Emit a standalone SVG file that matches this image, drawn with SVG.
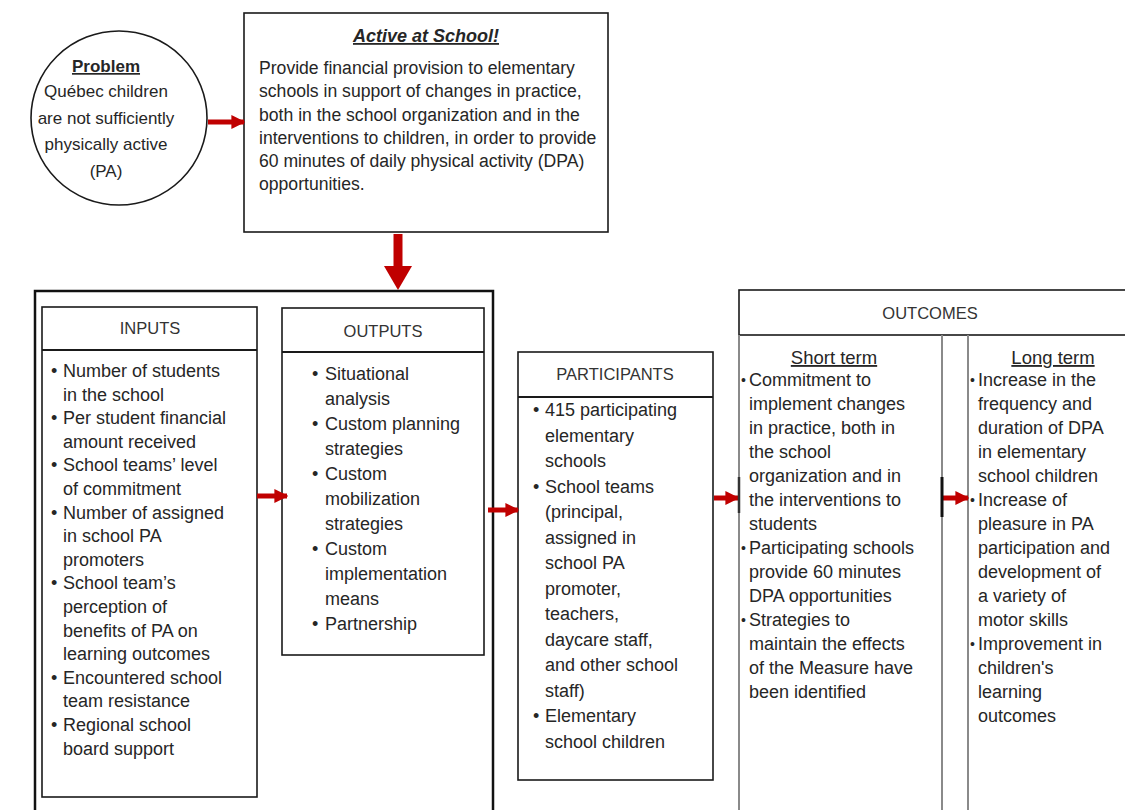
<svg xmlns="http://www.w3.org/2000/svg" width="1125" height="810" viewBox="0 0 1125 810">
<defs>
<style>
text{font-family:"Liberation Sans",Arial,sans-serif;fill:#262626;}
.b{font-size:18px;}
.a{font-size:17.6px;}
.c{font-size:17px;text-anchor:middle;}
.h{font-size:16.5px;text-anchor:middle;fill:#333;}
.t{font-size:18.5px;text-anchor:middle;text-decoration:underline;}
.d{font-size:14px;}
.box{fill:#fff;stroke:#1a1a1a;stroke-width:1.6;}
.gray{fill:none;stroke:#8a8a8a;stroke-width:2;}
.dark{fill:none;stroke:#1a1a1a;stroke-width:2;}
.arr{stroke:#c00000;stroke-width:5;fill:none;}
</style>
<marker id="ah" viewBox="0 0 10 10" refX="9" refY="5" markerWidth="14" markerHeight="14" markerUnits="userSpaceOnUse" orient="auto">
<path d="M0,0 L10,5 L0,10 Z" fill="#c00000"/>
</marker>
</defs>
<rect width="1125" height="810" fill="#fff"/>

<g id="problem">
<ellipse cx="119" cy="118" rx="88" ry="87" class="box"/>
<text class="c" x="106" y="72" font-weight="bold" font-size="18" text-decoration="underline">Problem</text>
<text class="c" x="106" y="97">Québec children</text>
<text class="c" x="106" y="124">are not sufficiently</text>
<text class="c" x="106" y="150">physically active</text>
<text class="c" x="106" y="177">(PA)</text>
</g>

<g id="active">
<rect x="244" y="13" width="364" height="219" class="box"/>
<text x="426" y="42" font-size="18" font-weight="bold" font-style="italic" text-anchor="middle" text-decoration="underline">Active at School!</text>
<text class="a" x="259" y="74">Provide financial provision to elementary</text>
<text class="a" x="259" y="97">schools in support of changes in practice,</text>
<text class="a" x="259" y="121">both in the school organization and in the</text>
<text class="a" x="259" y="144">interventions to children, in order to provide</text>
<text class="a" x="259" y="167">60 minutes of daily physical activity (DPA)</text>
<text class="a" x="259" y="190">opportunities.</text>
</g>

<g id="outer">
<rect x="35" y="291" width="458" height="540" fill="none" stroke="#111" stroke-width="2.5"/>
</g>

<g id="inputs">
<rect x="42" y="307" width="215" height="490" class="box"/>
<line x1="42" y1="350" x2="257" y2="350" class="dark"/>
<text class="h" x="150" y="334">INPUTS</text>
<g class="b">
<text x="51" y="377">•</text><text x="63" y="377">Number of students</text>
<text x="63" y="400.6">in the school</text>
<text x="51" y="424.2">•</text><text x="63" y="424.2">Per student financial</text>
<text x="63" y="447.8">amount received</text>
<text x="51" y="471.4">•</text><text x="63" y="471.4">School teams’ level</text>
<text x="63" y="495">of commitment</text>
<text x="51" y="518.6">•</text><text x="63" y="518.6">Number of assigned</text>
<text x="63" y="542.2">in school PA</text>
<text x="63" y="565.8">promoters</text>
<text x="51" y="589.4">•</text><text x="63" y="589.4">School team’s</text>
<text x="63" y="613">perception of</text>
<text x="63" y="636.6">benefits of PA on</text>
<text x="63" y="660.2">learning outcomes</text>
<text x="51" y="683.8">•</text><text x="63" y="683.8">Encountered school</text>
<text x="63" y="707.4">team resistance</text>
<text x="51" y="731">•</text><text x="63" y="731">Regional school</text>
<text x="63" y="754.6">board support</text>
</g>
</g>

<g id="outputs">
<rect x="282" y="308" width="202" height="347" class="box"/>
<line x1="282" y1="352" x2="484" y2="352" class="dark"/>
<text class="h" x="383" y="337">OUTPUTS</text>
<g class="b">
<text x="312" y="380">•</text><text x="325" y="380">Situational</text>
<text x="325" y="405">analysis</text>
<text x="312" y="430">•</text><text x="325" y="430">Custom planning</text>
<text x="325" y="455">strategies</text>
<text x="312" y="480">•</text><text x="325" y="480">Custom</text>
<text x="325" y="505">mobilization</text>
<text x="325" y="530">strategies</text>
<text x="312" y="555">•</text><text x="325" y="555">Custom</text>
<text x="325" y="580">implementation</text>
<text x="325" y="605">means</text>
<text x="312" y="630">•</text><text x="325" y="630">Partnership</text>
</g>
</g>

<g id="participants">
<rect x="518" y="352" width="195" height="428" class="box"/>
<line x1="518" y1="397" x2="713" y2="397" class="dark"/>
<text class="h" x="615" y="380">PARTICIPANTS</text>
<g class="b">
<text x="533" y="416">•</text><text x="545" y="416">415 participating</text>
<text x="545" y="441.5">elementary</text>
<text x="545" y="467">schools</text>
<text x="533" y="492.5">•</text><text x="545" y="492.5">School teams</text>
<text x="545" y="518">(principal,</text>
<text x="545" y="543.5">assigned in</text>
<text x="545" y="569">school PA</text>
<text x="545" y="594.5">promoter,</text>
<text x="545" y="620">teachers,</text>
<text x="545" y="645.5">daycare staff,</text>
<text x="545" y="671">and other school</text>
<text x="545" y="696.5">staff)</text>
<text x="533" y="722">•</text><text x="545" y="722">Elementary</text>
<text x="545" y="747.5">school children</text>
</g>
</g>

<g id="outcomes">
<rect x="739" y="290" width="400" height="45" class="box" stroke-width="2"/>
<text class="h" x="930" y="319" font-size="17">OUTCOMES</text>
</g>

<g id="short-term">
<line x1="739" y1="335" x2="739" y2="815" class="gray"/>
<line x1="942" y1="335" x2="942" y2="815" class="gray"/>
<text class="t" x="834" y="364">Short term</text>
<g class="b">
<text class="d" x="741" y="385">•</text><text x="749" y="386">Commitment to</text>
<text x="749" y="410">implement changes</text>
<text x="749" y="434">in practice, both in</text>
<text x="749" y="458">the school</text>
<text x="749" y="482">organization and in</text>
<text x="749" y="506">the interventions to</text>
<text x="749" y="530">students</text>
<text class="d" x="741" y="553">•</text><text x="749" y="554">Participating schools</text>
<text x="749" y="578">provide 60 minutes</text>
<text x="749" y="602">DPA opportunities</text>
<text class="d" x="741" y="625">•</text><text x="749" y="626">Strategies to</text>
<text x="749" y="650">maintain the effects</text>
<text x="749" y="674">of the Measure have</text>
<text x="749" y="698">been identified</text>
</g>
</g>

<g id="long-term">
<line x1="968" y1="335" x2="968" y2="815" class="gray"/>
<text class="t" x="1053" y="364">Long term</text>
<g class="b">
<text class="d" x="970" y="385">•</text><text x="978" y="386">Increase in the</text>
<text x="978" y="410">frequency and</text>
<text x="978" y="434">duration of DPA</text>
<text x="978" y="458">in elementary</text>
<text x="978" y="482">school children</text>
<text class="d" x="970" y="505">•</text><text x="978" y="506">Increase of</text>
<text x="978" y="530">pleasure in PA</text>
<text x="978" y="554">participation and</text>
<text x="978" y="578">development of</text>
<text x="978" y="602">a variety of</text>
<text x="978" y="626">motor skills</text>
<text class="d" x="970" y="649">•</text><text x="978" y="650">Improvement in</text>
<text x="978" y="674">children's</text>
<text x="978" y="698">learning</text>
<text x="978" y="722">outcomes</text>
</g>
</g>

<g id="connectors">
<line x1="208" y1="122" x2="244" y2="122" class="arr" marker-end="url(#ah)"/>
<line x1="398" y1="234" x2="398" y2="270" stroke="#c00000" stroke-width="9"/>
<path d="M384,266 L412,266 L398,290 Z" fill="#c00000"/>
<line x1="257" y1="496" x2="287" y2="496" class="arr" marker-end="url(#ah)"/>
<line x1="488" y1="510" x2="518" y2="510" class="arr" marker-end="url(#ah)"/>
<line x1="714" y1="498" x2="738" y2="498" class="arr" marker-end="url(#ah)"/>
<line x1="942" y1="498" x2="968" y2="498" class="arr" marker-end="url(#ah)"/>
<line x1="739" y1="477" x2="739" y2="513" stroke="#333" stroke-width="2.5"/>
<line x1="942" y1="477" x2="942" y2="517" stroke="#111" stroke-width="3"/>
</g>
</svg>
